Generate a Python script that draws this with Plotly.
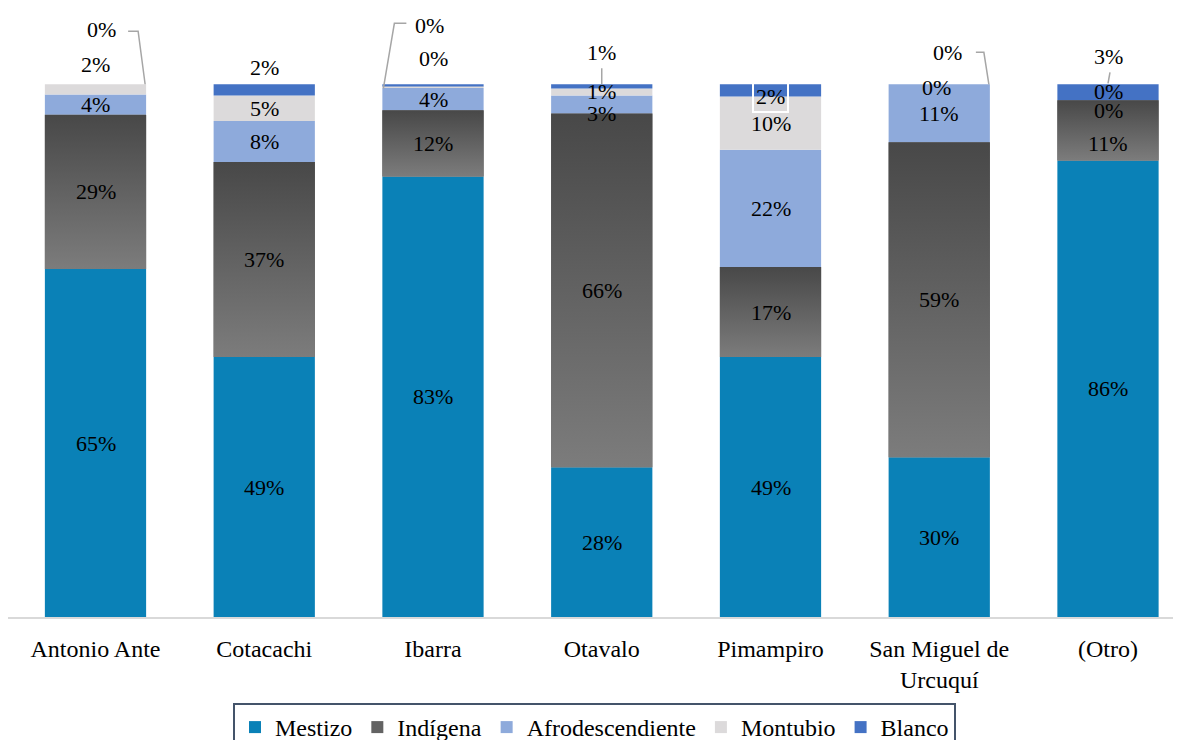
import plotly.graph_objects as go

categories = ["Antonio Ante", "Cotacachi", "Ibarra", "Otavalo", "Pimampiro",
              "San Miguel de<br>Urcuquí", "(Otro)"]
mestizo = [65.3, 48.8, 82.7, 28.1, 48.8, 30.0, 85.7]
indigena = [29.0, 36.6, 12.4, 66.4, 16.9, 59.1, 11.3]
afro = [3.8, 7.7, 4.2, 3.4, 22.0, 10.9, 0.0]
montubio = [1.9, 4.8, 0.3, 1.3, 10.0, 0.0, 0.0]
blanco = [0.0, 2.1, 0.4, 0.8, 2.3, 0.0, 3.0]

series_names = ["Mestizo", "Indígena", "Afrodescendiente", "Montubio", "Blanco"]
series_vals = [mestizo, indigena, afro, montubio, blanco]
series_colors = ["#0a81b7", "#636363", "#8eaadb", "#dcdadb", "#4472c4"]

FONT = "Liberation Serif"
FS = 22
FS_AX = 24
HALF = 0.3  # half bar width (x units)
XR = [-0.5185, 6.4326]
YR = [0, 100.05]

idx = list(range(len(categories)))

fig = go.Figure()

bases = []
cum = [0.0] * len(categories)
for name, vals, col in zip(series_names, series_vals, series_colors):
    base = cum[:]
    bases.append(base)
    fig.add_trace(go.Bar(
        x=idx, y=vals, base=base, width=2 * HALF, name=name,
        marker=dict(color=col, line=dict(width=0)),
        hovertemplate=name + ": %{y:.1f}%<extra></extra>",
    ))
    cum = [c + v for c, v in zip(cum, vals)]

# Gradient overlay for the Indígena segments
ib = bases[1]
for i, (b, v) in enumerate(zip(ib, indigena)):
    fig.add_trace(go.Scatter(
        x=[i - HALF, i + HALF, i + HALF, i - HALF, i - HALF],
        y=[b, b, b + v, b + v, b],
        mode="none", fill="toself",
        fillgradient=dict(type="vertical",
                          colorscale=[[0, "#7c7c7c"], [1, "#484848"]],
                          start=b, stop=b + v),
        showlegend=False, hoverinfo="skip",
    ))

# label styling: (series index, category index) -> options
# callout: (bar-edge dx, text xshift, text yshift, leader path in px offsets)
special = {
    (3, 0): dict(yshift=25),
    (4, 0): dict(callout=(HALF, -45, 55, "M -18 53 L -8 53 L -1 0")),
    (4, 1): dict(yshift=22),
    (3, 2): dict(yshift=29),
    (4, 2): dict(callout=(-HALF, 47, 59, "M 24 61 L 12 61 L 1 -4")),
    (2, 3): dict(yshift=-9),
    (4, 3): dict(callout=(0, 0, 32, "M 0 16 L 0 0")),
    (4, 4): dict(yshift=-6, box=True),
    (3, 5): dict(yshift=-3, xshift=-3),
    (4, 5): dict(callout=(HALF, -42, 32, "M -14 32 L -6 32 L -1 0")),
    (3, 6): dict(yshift=9),
    (2, 6): dict(yshift=-10),
    (1, 6): dict(yshift=-13),
    (4, 6): dict(callout=(0, 0, 28, "M 2 12 L 0 1")),
}


def to_paper_x(x):
    return (x - XR[0]) / (XR[1] - XR[0])


def to_paper_y(y):
    return (y - YR[0]) / (YR[1] - YR[0])


annotations = []
shapes = []
for s, vals in enumerate(series_vals):
    for i, v in enumerate(vals):
        b = bases[s][i]
        opt = special.get((s, i), {})
        text = f"{v:.0f}%"
        a = dict(text=text, font=dict(family=FONT, size=FS, color="#000000"),
                 xref="x", yref="y", showarrow=False)
        if "callout" in opt:
            dx, xs, ys, path = opt["callout"]
            top = min(b + v, 100)
            a.update(x=i + dx, y=top, xshift=xs, yshift=ys)
            shapes.append(dict(type="path", xref="paper", yref="paper",
                               xsizemode="pixel", ysizemode="pixel",
                               xanchor=to_paper_x(i + dx),
                               yanchor=to_paper_y(top), path=path,
                               line=dict(color="#a6a6a6", width=1.5)))
        else:
            a.update(x=i, y=b + v / 2,
                     yshift=opt.get("yshift", 0), xshift=opt.get("xshift", 0))
            if opt.get("box"):
                a.update(bordercolor="#ffffff", borderwidth=2, borderpad=2)
        annotations.append(a)

W, H = 1173, 732
fig.update_layout(
    width=W, height=H,
    margin=dict(l=0, r=0, t=76, b=123, autoexpand=False),
    paper_bgcolor="#ffffff", plot_bgcolor="#ffffff",
    barmode="overlay",
    font=dict(family=FONT, size=FS, color="#000000"),
    xaxis=dict(range=XR, tickvals=idx, ticktext=categories,
               showgrid=False, zeroline=False, showline=True,
               linecolor="#d9d9d9", linewidth=2, ticks="",
               ticklabelstandoff=9, automargin=False,
               tickfont=dict(family=FONT, size=FS_AX, color="#000000")),
    yaxis=dict(range=YR, visible=False),
    legend=dict(orientation="h", x=0.5, xanchor="center",
                yref="container", y=1 - 695 / H, yanchor="top",
                bordercolor="#44546a", borderwidth=2, bgcolor="#ffffff",
                font=dict(family=FONT, size=FS_AX, color="#000000")),
    annotations=annotations,
    shapes=shapes,
    showlegend=True,
)

fig.write_html("out.html")
